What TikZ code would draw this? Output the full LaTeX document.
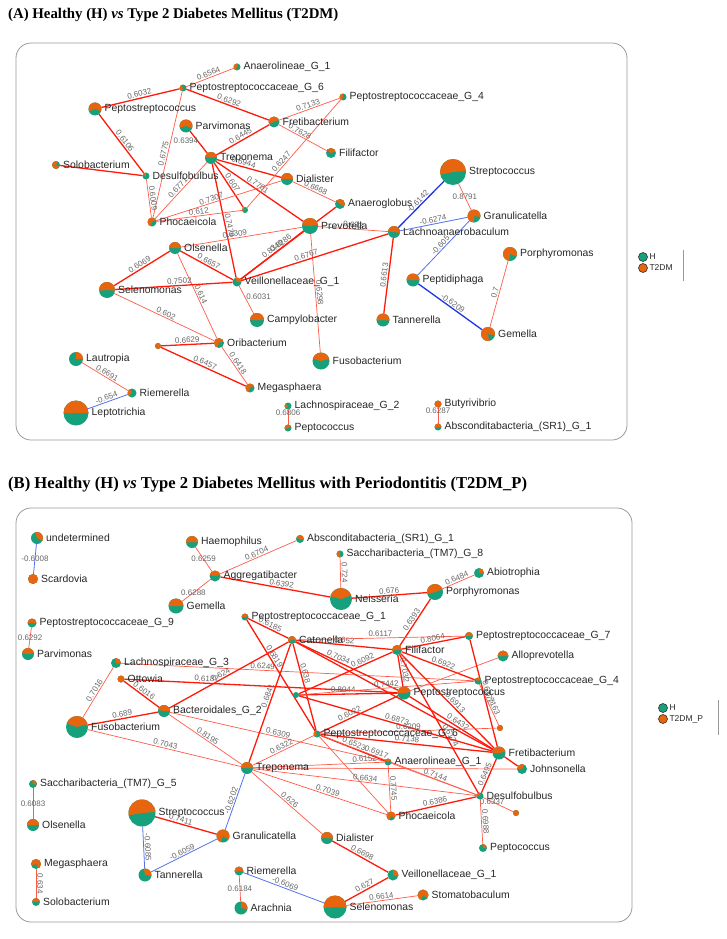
\documentclass[tikz,border=0pt]{standalone}
\usepackage{fontspec}
\setmainfont{Liberation Sans}
\newfontfamily\titlefont{Liberation Serif}
\definecolor{tor}{HTML}{E8650F}
\definecolor{hgr}{HTML}{16A07C}
\definecolor{er}{HTML}{FF1A0A}
\definecolor{erl}{HTML}{FF5A48}
\definecolor{eb}{HTML}{1F35E6}
\definecolor{ebl}{HTML}{5570F0}
\pgfdeclarelayer{bg}
\pgfsetlayers{bg,main}
\tikzset{
 pie/.style n args={3}{circle, inner sep=0pt, outer sep=0pt, minimum size=#1pt, fill=hgr,
   path picture={\fill[tor] (path picture bounding box.center) -- ++(#2:#1pt) arc[start angle=#2, end angle=#3, radius=#1pt] -- cycle;}},
 nl/.style={font=\fontsize{10.4}{11}\selectfont, text=black!85, inner sep=1.5pt},
 every label/.style={nl},
 label distance=1.5pt,
 T/.style={draw=er, line width=1.3pt},
 N/.style={draw=erl, line width=0.7pt},
 B/.style={draw=eb, line width=1.3pt},
 BN/.style={draw=ebl, line width=0.8pt},
 el/.style={font=\fontsize{8}{8}\selectfont, text=black!60, sloped, above, inner sep=1pt},
 eh/.style={font=\fontsize{8}{8}\selectfont, text=black!60, inner sep=1pt},
 lg/.style={circle, draw=black!80, line width=0.6pt, minimum size=9pt, inner sep=0pt},
 lgt/.style={font=\fontsize{8.5}{9}\selectfont, text=black!85, anchor=west, inner sep=1.5pt},
 ttl/.style={anchor=west, inner sep=0pt},
 panel/.style={draw=black!40, line width=0.8pt, rounded corners=15pt},
}
\begin{document}
\begin{tikzpicture}[x=1pt,y=1pt]
\useasboundingbox (0,0) rectangle (726,-939);
% titles
\node[ttl, font={\titlefont\bfseries\fontsize{14.8}{17}\selectfont}] (tA) at (8,-15) {(A) Healthy (H) \textit{vs} Type 2 Diabetes Mellitus (T2DM)};
\node[ttl, font={\titlefont\bfseries\fontsize{16.6}{19}\selectfont}] (tB) at (8,-485) {(B) Healthy (H) \textit{vs} Type 2 Diabetes Mellitus with Periodontitis (T2DM\_P)};
% panels
\draw[panel] (16,-43) rectangle (627,-440);
\draw[panel] (16,-508) rectangle (632,-922);
% legends
\node[lg, fill=hgr] (lAH) at (643,-257) {};
\node[lgt] at (lAH.east) {H};
\node[lg, fill=tor] (lAT) at (643,-268) {};
\node[lgt] at (lAT.east) {T2DM};
\draw[black!40] (683,-250) -- (683,-281);
\node[lg, fill=hgr] (lBH) at (663,-708) {};
\node[lgt] at (lBH.east) {H};
\node[lg, fill=tor] (lBT) at (663,-719) {};
\node[lgt] at (lBT.east) {T2DM\_P};
\draw[black!40] (718,-700) -- (718,-735);

% ===== Panel A nodes =====
\node[pie={7}{70}{250}, label={right:Anaerolineae\_G\_1}] (AAn) at (237,-67) {};
\node[pie={7}{120}{250}, label={right:Peptostreptococcaceae\_G\_6}] (AP6) at (183,-88) {};
\node[pie={13}{-20}{200}, label={right:Peptostreptococcus}] (APs) at (95,-109) {};
\node[pie={13}{-20}{195}, label={right:Parvimonas}] (APa) at (186,-126) {};
\node[pie={11}{20}{200}, label={right:Fretibacterium}] (AFr) at (274,-122) {};
\node[pie={7}{90}{250}, label={right:Peptostreptococcaceae\_G\_4}] (AP4) at (343,-97) {};
\node[pie={12}{10}{170}, label={right:Treponema}] (ATr) at (211,-158) {};
\node[pie={8}{60}{330}, label={right:Solobacterium}] (ASo) at (56,-165) {};
\node[pie={7}{100}{170}, label={right:Desulfobulbus}] (ADe) at (146,-176) {};
\node[pie={12}{0}{185}, label={right:Dialister}] (ADi) at (287,-179) {};
\node[pie={10}{20}{140}, label={right:Filifactor}] (AFi) at (331,-153) {};
\node[pie={9}{30}{250}, label={right:Phocaeicola}] (APh) at (152,-222) {};
\node[pie={6}{120}{200}] (AsA) at (245,-210) {};
\node[pie={16}{10}{175}, label={right:Prevotella}] (APr) at (310,-226) {};
\node[pie={10}{-30}{140}, label={right:Anaeroglobus}] (AAg) at (340,-204) {};
\node[pie={26}{5}{192}, label={right:Streptococcus}] (ASt) at (453,-172) {};
\node[pie={13}{-10}{270}, label={right:Granulicatella}] (AGr) at (474,-216) {};
\node[pie={12}{-10}{175}, label={right:Lachnoanaerobaculum}] (ALa) at (394,-232) {};
\node[pie={13}{0}{180}, label={right:Peptidiphaga}] (APe) at (413,-280) {};
\node[pie={14}{-20}{265}, label={right:Porphyromonas}] (APo) at (510,-254) {};
\node[pie={14}{-10}{280}, label={right:Gemella}] (AGe) at (488,-334) {};
\node[pie={13}{-5}{185}, label={right:Tannerella}] (ATa) at (383,-320) {};
\node[pie={17}{15}{165}, label={right:Fusobacterium}] (AFu) at (321,-361) {};
\node[pie={12}{0}{180}, label={right:Olsenella}] (AOl) at (175,-248) {};
\node[pie={16}{-5}{185}, label={right:Selenomonas}] (ASe) at (107,-290) {};
\node[pie={9}{0}{110}, label={right:Veillonellaceae\_G\_1}] (AVe) at (237,-282) {};
\node[pie={14}{0}{180}, label={right:Campylobacter}] (ACa) at (257,-320) {};
\node[pie={10}{30}{250}, label={right:Oribacterium}] (AOr) at (219,-343) {};
\node[pie={6}{0}{360}] (AsB) at (158,-346) {};
\node[pie={9}{30}{250}, label={right:Megasphaera}] (AMe) at (250,-388) {};
\node[pie={14}{0}{90}, label={right:Lautropia}] (ALu) at (76,-359) {};
\node[pie={9}{110}{220}, label={right:Riemerella}] (ARi) at (132,-393) {};
\node[pie={25}{0}{180}, label={right:Leptotrichia}] (ALe) at (76,-413) {};
\node[pie={7}{140}{230}, label={right:Lachnospiraceae\_G\_2}] (AL2) at (288,-406) {};
\node[pie={7}{30}{200}, label={right:Peptococcus}] (APc) at (288,-428) {};
\node[pie={7}{0}{360}, label={right:Butyrivibrio}] (ABu) at (438,-404) {};
\node[pie={7}{0}{200}, label={right:Absconditabacteria\_(SR1)\_G\_1}] (AAb) at (438,-427) {};

% ===== Panel B nodes =====
\node[pie={12}{-30}{110}, label={right:undetermined}] (BUn) at (37,-538) {};
\node[pie={10}{0}{360}, label={right:Scardovia}] (BSc) at (33,-579) {};
\node[pie={12}{-5}{185}, label={right:Haemophilus}] (BHa) at (192,-542) {};
\node[pie={8}{-20}{160}, label={right:Absconditabacteria\_(SR1)\_G\_1}] (BAb) at (300,-539) {};
\node[pie={11}{10}{170}, label={right:Aggregatibacter}] (BAg) at (215,-576) {};
\node[pie={15}{0}{180}, label={right:Gemella}] (BGe) at (176,-606) {};
\node[pie={7}{90}{270}, label={right:Saccharibacteria\_(TM7)\_G\_8}] (BS8) at (340,-554) {};
\node[pie={22}{20}{165}, label={right:Neisseria}] (BNe) at (341,-599) {};
\node[pie={16}{20}{195}, label={right:Porphyromonas}] (BPo) at (435,-592) {};
\node[pie={10}{-10}{90}, label={right:Abiotrophia}] (BAi) at (479,-573) {};
\node[pie={7}{20}{180}, label={right:Peptostreptococcaceae\_G\_1}] (BP1) at (245,-617) {};
\node[pie={9}{0}{180}, label={right:Peptostreptococcaceae\_G\_9}] (BP9) at (32,-623) {};
\node[pie={12}{10}{175}, label={right:Parvimonas}] (BPa) at (28,-654) {};
\node[pie={10}{-10}{100}, label={right:Lachnospiraceae\_G\_3}] (BL3) at (116,-663) {};
\node[pie={7}{0}{360}, label={right:Ottowia}] (BOt) at (121,-679) {};
\node[pie={12}{0}{170}, label={right:Bacteroidales\_G\_2}] (BBG) at (164,-711) {};
\node[pie={22}{15}{160}, label={right:Fusobacterium}] (BFu) at (77,-727) {};
\node[pie={8}{0}{200}, label={right:Catonella}] (BCa) at (292,-640) {};
\node[pie={10}{0}{190}, label={right:Filifactor}] (BFi) at (397,-650) {};
\node[pie={8}{0}{180}, label={right:Peptostreptococcaceae\_G\_7}] (BP7) at (469,-636) {};
\node[pie={11}{0}{180}, label={right:Alloprevotella}] (BAP) at (503,-656) {};
\node[pie={7}{30}{150}, label={right:Peptostreptococcaceae\_G\_4}] (BP4) at (478,-681) {};
\node[pie={13}{10}{180}, label={right:Peptostreptococcus}] (BPs) at (404,-693) {};
\node[pie={6}{0}{0.5}] (BS1) at (296,-695) {};
\node[pie={7}{120}{240}, label={right:Peptostreptococcaceae\_G\_6}] (BP6) at (317,-734) {};
\node[pie={6}{0}{360}] (BS2) at (500,-728) {};
\node[pie={13}{10}{180}, label={right:Fretibacterium}] (BFr) at (499,-753) {};
\node[pie={7}{30}{150}, label={right:Anaerolineae\_G\_1}] (BAn) at (388,-762) {};
\node[pie={10}{60}{180}, label={right:Johnsonella}] (BJo) at (522,-769) {};
\node[pie={12}{0}{180}, label={right:Treponema}] (BTr) at (247,-768) {};
\node[pie={7}{90}{180}, label={right:Desulfobulbus}] (BDe) at (480,-796) {};
\node[pie={6}{0}{360}] (BS3) at (516,-813) {};
\node[pie={9}{-30}{250}, label={right:Phocaeicola}] (BPh) at (391,-816) {};
\node[pie={8}{0}{100}, label={right:Peptococcus}] (BPc) at (483,-848) {};
\node[pie={12}{-5}{185}, label={right:Dialister}] (BDi) at (327,-838) {};
\node[pie={11}{-20}{90}, label={right:Veillonellaceae\_G\_1}] (BVe) at (393,-875) {};
\node[pie={23}{-5}{185}, label={right:Selenomonas}] (BSe) at (335,-907) {};
\node[pie={11}{-40}{250}, label={right:Stomatobaculum}] (BSb) at (423,-895) {};
\node[pie={27}{5}{190}, label={right:Streptococcus}] (BSt) at (142,-813) {};
\node[pie={13}{-30}{250}, label={right:Granulicatella}] (BGr) at (223,-836) {};
\node[pie={13}{-10}{100}, label={right:Tannerella}] (BTa) at (145,-875) {};
\node[pie={8}{-10}{100}, label={right:Saccharibacteria\_(TM7)\_G\_5}] (BS5) at (33,-784) {};
\node[pie={12}{0}{180}, label={right:Olsenella}] (BOl) at (33,-825) {};
\node[pie={10}{-60}{200}, label={right:Megasphaera}] (BMe) at (36,-864) {};
\node[pie={8}{0}{180}, label={right:Solobacterium}] (BSo) at (36,-902) {};
\node[pie={9}{-10}{200}, label={right:Riemerella}] (BRi) at (239,-871) {};
\node[pie={13}{-10}{90}, label={right:Arachnia}] (BAr) at (241,-908) {};

\begin{pgfonlayer}{bg}
% ===== Panel A edges =====
\draw[N] (AAn) -- node[el]{0.6564} (AP6);
\draw[T] (APs) -- node[el]{0.6032} (AP6);
\draw[T] (AP6) -- node[el]{0.6292} (AFr);
\draw[N] (AP6) -- node[el]{0.6775} (APh);
\draw[T] (APs) -- node[el]{0.6106} (ADe);
\draw[T] (ASo) -- (ADe);
\draw[N] (ADe) -- node[el]{0.6009} (APh);
\draw[T] (APa) -- node[eh, pos=0.45, left=-2pt]{0.6394} (ATr);
\draw[T] (ATr) -- node[el]{0.6445} (AFr);
\draw[T] (ATr) -- node[el, pos=0.4]{0.6944} (ADi);
\draw[N] (ATr) -- node[el]{0.6771} (APh);
\draw[T] (ATr) -- node[el]{0.607} (AsA);
\draw[T] (ATr) -- node[el, pos=0.45]{0.7761} (APr);
\draw[T] (ATr) -- node[el, pos=0.55]{0.7479} (AVe);
\draw[N] (APh) -- node[el, pos=0.45]{0.7307} (ADi);
\draw[N] (APh) -- node[el]{0.612} (AsA);
\draw[N] (AsA) -- node[el, pos=0.4]{0.6247} (AP4);
\draw[N] (AFr) -- node[el, pos=0.4]{0.7628} (AFi);
\draw[N] (AFr) -- node[el]{0.7133} (AP4);
\draw[N] (ADi) -- node[el]{0.6668} (AAg);
\draw[T] (AVe) -- node[el, pos=0.45]{0.8286} (AAg);
\draw[T] (AVe) -- node[el, pos=0.55]{0.8349} (APr);
\draw[N] (APr) -- node[el]{0.633} (ALa);
\draw[B] (ASt) -- node[el]{-0.6142} (ALa);
\draw[N] (ASt) -- node[eh]{0.8791} (AGr);
\draw[BN] (AGr) -- node[el]{-0.6274} (ALa);
\draw[BN] (AGr) -- node[el]{-0.605} (APe);
\draw[B] (APe) -- node[el]{-0.6209} (AGe);
\draw[N] (APo) -- node[el]{0.7} (AGe);
\draw[T] (ALa) -- node[el]{0.6613} (ATa);
\draw[N] (APr) -- node[el]{0.6298} (AFu);
\draw[T] (ALa) -- node[el, pos=0.55]{0.6767} (AVe);
\draw[N] (AOl) -- node[el, pos=0.45]{0.6309} (APr);
\draw[T] (AOl) -- node[el]{0.6657} (AVe);
\draw[T] (AOl) -- node[el]{0.6069} (ASe);
\draw[N] (AOl) -- node[el]{0.614} (AOr);
\draw[T] (ASe) -- node[el, pos=0.55]{0.7502} (AVe);
\draw[N] (ASe) -- node[el]{0.602} (AOr);
\draw[N] (AVe) -- node[eh, pos=0.4, right]{0.6031} (ACa);
\draw[T] (AsB) -- node[el]{0.6629} (AOr);
\draw[T] (AsB) -- node[el]{0.6457} (AMe);
\draw[N] (AOr) -- node[el]{0.6418} (AMe);
\draw[N] (ALu) -- node[el]{0.6691} (ARi);
\draw[BN] (ARi) -- node[el]{-0.654} (ALe);
\draw[N] (AL2) -- node[eh, pos=0.2]{0.6806} (APc);
\draw[N] (ABu) -- node[eh, pos=0.2]{0.6287} (AAb);

% ===== Panel B edges =====
\draw[BN] (BUn) -- node[eh]{-0.6008} (BSc);
\draw[N] (BHa) -- node[eh]{0.6259} (BAg);
\draw[N] (BAg) -- node[el]{0.6704} (BAb);
\draw[T] (BAg) -- node[el, pos=0.55]{0.6392} (BNe);
\draw[N] (BAg) -- node[eh, pos=0.6]{0.6288} (BGe);
\draw[N] (BS8) -- node[el]{0.724} (BNe);
\draw[T] (BNe) -- node[el]{0.676} (BPo);
\draw[N] (BPo) -- node[el]{0.6484} (BAi);
\draw[T] (BPo) -- node[el]{0.6393} (BFi);
\draw[N] (BP9) -- node[eh]{0.6292} (BPa);
\draw[N] (BL3) -- node[el]{0.7016} (BFu);
\draw[T] (BFu) -- node[el]{0.689} (BBG);
\draw[T] (BOt) -- node[el]{0.6016} (BBG);
\draw[N] (BFu) -- node[el]{0.7043} (BTr);
\draw[N] (BBG) -- node[el]{0.8195} (BTr);
\draw[N] (BBG) -- node[el, pos=0.5]{0.6309} (BAn);
\draw[N] (BL3) -- node[el, pos=0.4]{0.6249} (BP4);
\draw[T] (BOt) -- node[el, pos=0.3]{0.6187} (BPs);
\draw[T] (BBG) -- node[el, pos=0.45]{0.624} (BCa);
\draw[T] (BP1) -- node[el]{0.6185} (BCa);
\draw[T] (BP1) -- node[el, pos=0.35]{0.6819} (BP6);
\draw[T] (BCa) -- node[el, pos=0.5]{0.652} (BFi);
\draw[N] (BCa) -- node[el, pos=0.5]{0.6117} (BP7);
\draw[T] (BFi) -- node[el]{0.8064} (BP7);
\draw[T] (BCa) -- node[el, pos=0.4]{0.7034} (BPs);
\draw[T] (BCa) -- node[el, pos=0.35]{0.638} (BP6);
\draw[T] (BCa) -- node[el, pos=0.45]{0.6841} (BTr);
\draw[T] (BCa) -- (BFr);
\draw[T] (BFi) -- node[el, pos=0.3]{0.6092} (BS1);
\draw[T] (BS1) -- node[el, pos=0.45]{0.8044} (BPs);
\draw[N] (BS1) -- node[el, pos=0.5]{0.7442} (BP4);
\draw[T] (BFi) -- node[el]{0.7032} (BPs);
\draw[T] (BFi) -- node[el, pos=0.55]{0.6922} (BP4);
\draw[T] (BFi) -- node[el, pos=0.55]{0.6913} (BFr);
\draw[T] (BPs) -- node[el, pos=0.55]{0.6432} (BFr);
\draw[N] (BPs) -- (BAP);
\draw[T] (BP7) -- node[el, pos=0.5]{0.6372} (BFr);
\draw[N] (BP4) -- node[el]{0.7163} (BS2);
\draw[T] (BP6) -- node[el, pos=0.4]{0.6022} (BPs);
\draw[T] (BS1) -- node[el, pos=0.5]{0.6873} (BFr);
\draw[N] (BP6) -- node[el, pos=0.5]{0.6209} (BS2);
\draw[T] (BP6) -- node[el, pos=0.5]{0.7138} (BFr);
\draw[T] (BP6) -- node[el]{0.6523} (BAn);
\draw[N] (BP6) -- node[el, pos=0.35]{0.6917} (BDe);
\draw[N] (BP6) -- (BPh);
\draw[N] (BTr) -- node[el, pos=0.85]{0.6152} (BAn);
\draw[T] (BFi) -- node[el, pos=0.6]{0.6174} (BDe);
\draw[T] (BFr) -- node[el]{0.6495} (BDe);
\draw[T] (BFr) -- (BJo);
\draw[N] (BTr) -- (BJo);
\draw[N] (BTr) -- node[el]{0.6322} (BP6);
\draw[N] (BTr) -- node[el, pos=0.55]{0.7039} (BPh);
\draw[N] (BTr) -- node[el, pos=0.5]{0.6634} (BDe);
\draw[N] (BTr) -- node[el]{0.626} (BDi);
\draw[BN] (BTr) -- node[el]{-0.6202} (BGr);
\draw[N] (BAn) -- node[el]{0.7745} (BPh);
\draw[N] (BAn) -- node[el]{0.7144} (BDe);
\draw[T] (BDe) -- node[el]{0.6386} (BPh);
\draw[N] (BDe) -- node[eh, pos=0.3]{0.6337} (BS3);
\draw[N] (BDe) -- node[el]{0.6988} (BPc);
\draw[T] (BDi) -- node[el]{0.6698} (BVe);
\draw[T] (BSe) -- node[el]{0.627} (BVe);
\draw[N] (BSe) -- node[el]{0.6614} (BSb);
\draw[BN] (BRi) -- node[el]{-0.6069} (BSe);
\draw[N] (BRi) -- node[eh]{0.6184} (BAr);
\draw[T] (BSt) -- node[el, pos=0.4]{0.7411} (BGr);
\draw[BN] (BSt) -- node[el]{-0.6085} (BTa);
\draw[BN] (BTa) -- node[el]{-0.6059} (BGr);
\draw[N] (BS5) -- node[eh]{0.6083} (BOl);
\draw[N] (BMe) -- node[el]{0.634} (BSo);
\end{pgfonlayer}
\end{tikzpicture}
\end{document}
